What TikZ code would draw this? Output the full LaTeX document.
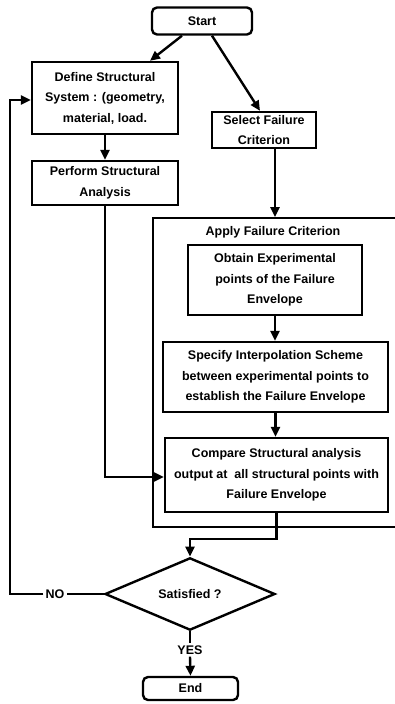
\documentclass[tikz,border=0pt]{standalone}
\usepackage{fontspec}
\setmainfont{Liberation Sans}
\usetikzlibrary{arrows.meta,shapes.geometric}
\begin{document}
\begin{tikzpicture}[x=1pt,y=-1pt,
  line width=2.4pt,
  font=\fontsize{12.5}{20.5}\selectfont\bfseries,
  box/.style={draw, rectangle, inner sep=0pt, align=center},
  rbox/.style={box, rounded corners=5pt},
  arr/.style={-{Triangle[length=10pt,width=9pt]}},
  lbl/.style={inner sep=1pt, fill=white}
]
\clip (0,0) rectangle (395,704);
\fill[white] (0,0) rectangle (395,704);

\node[rbox, minimum width=100pt, minimum height=27pt] (start) at (202,21) {Start};
\node[box, minimum width=146pt, minimum height=72pt] (define) at (105,98)
  {Define Structural\\System : (geometry,\\material, load.};
\node[box, minimum width=104pt, minimum height=36pt] (select) at (264,130)
  {Select Failure\\Criterion};
\node[box, minimum width=146pt, minimum height=44pt] (perform) at (105,183)
  {Perform Structural\\Analysis};

\node[draw, rectangle, inner sep=0pt, anchor=north west,
      minimum width=260pt, minimum height=309pt] (apply) at (152,217) {};
\node[inner sep=0pt] (applylbl) at (273,232) {Apply Failure Criterion};

\node[box, minimum width=174pt, minimum height=70pt] (obtain) at (275,280)
  {Obtain Experimental\\points of the Failure\\Envelope};
\node[box, minimum width=225pt, minimum height=70pt] (specify) at (275.5,377)
  {Specify Interpolation Scheme\\between experimental points to\\establish the Failure Envelope};
\node[box, minimum width=223pt, minimum height=74pt] (compare) at (276.5,475)
  {Compare Structural analysis\\output at\ \ all structural points with\\Failure Envelope};

\node[draw, diamond, inner sep=0pt, minimum width=170pt, minimum height=57pt] (sat) at (190,594) {Satisfied ?};
\node[lbl] (no) at (55,594) {NO};
\node[lbl] (yes) at (190,650) {YES};
\node[rbox, minimum width=95pt, minimum height=23pt] (end) at (190.5,688.5) {End};

\coordinate (loop) at (10,594);

% connectors
\draw[arr] ([xshift=-20pt]start.south) -- ([xshift=45pt]define.north);
\draw[arr] ([xshift=10pt]start.south) -- ([xshift=-4pt]select.north);
\draw[arr] (define.south) -- (perform.north);
\draw[arr] ([xshift=11pt]select.south) -- ([xshift=11pt]select.south |- apply.north);
\draw[arr] (obtain.south) -- (obtain.south |- specify.north);
\draw[arr] (specify.south) -- (specify.south |- compare.north);
\draw[arr] (perform.south) |- ([yshift=-2pt]compare.west);
\draw[arr] (compare.south) -- ++(0,26) -| (sat.north);
\draw (sat.west) -- (no.east);
\draw[arr] (no.west) -- (loop) |- ([yshift=-2pt]define.west);
\draw (sat.south) -- (yes.north);
\draw[arr] (yes.south) -- (end.north);
\end{tikzpicture}
\end{document}
